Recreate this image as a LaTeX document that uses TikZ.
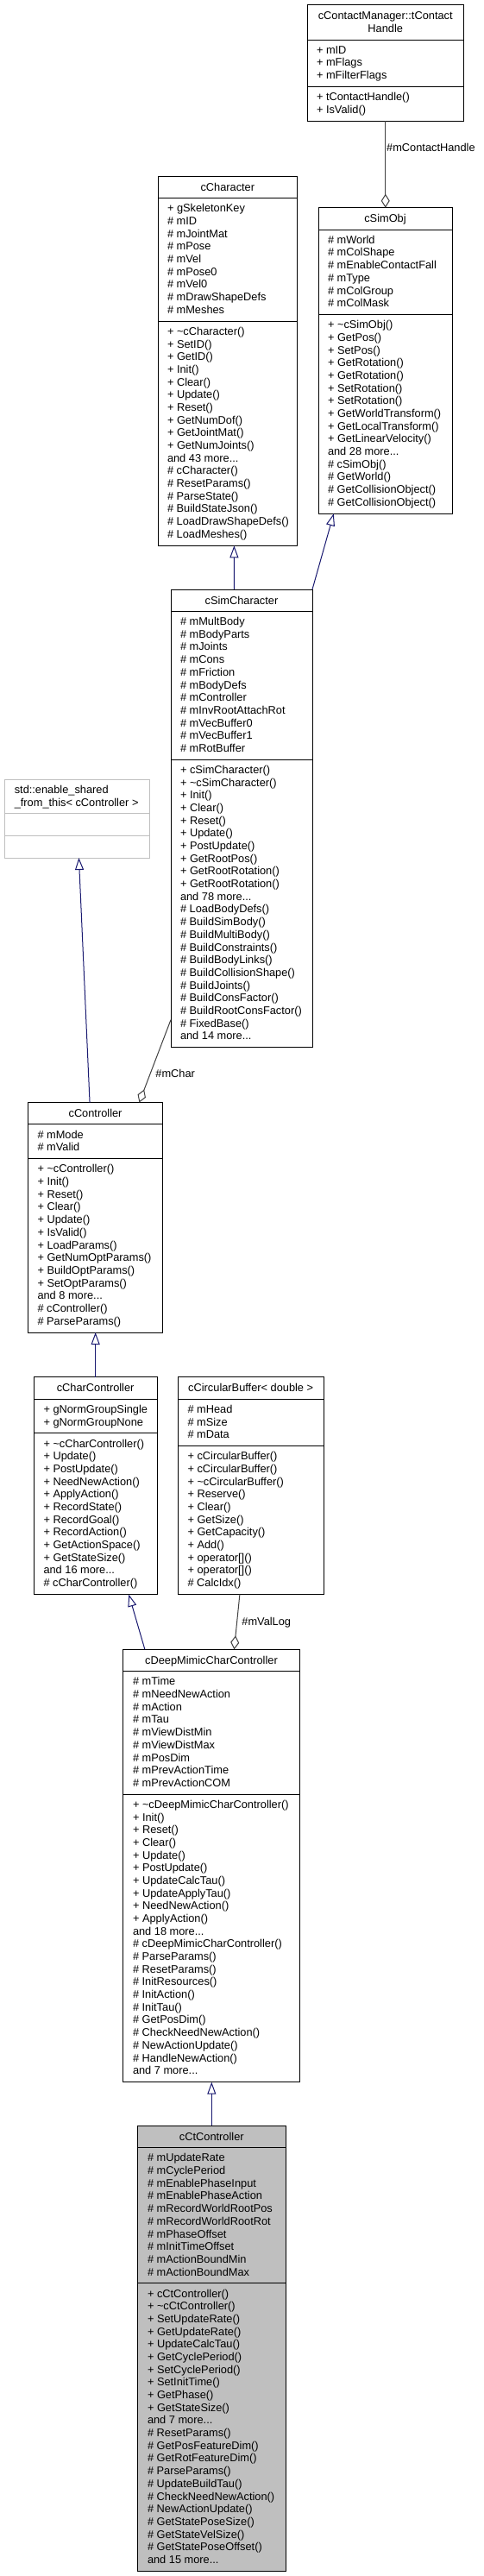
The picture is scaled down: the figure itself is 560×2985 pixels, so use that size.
\documentclass[tikz,border=0pt]{standalone}
\usepackage{fontspec}
\setmainfont{Liberation Sans}
\usetikzlibrary{arrows.meta}
\definecolor{inhcol}{HTML}{191970}
\definecolor{aggcol}{HTML}{404040}
\definecolor{greyss}{HTML}{BFBFBF}
\newcommand\dfont{\fontsize{12.8}{14.68}\selectfont}
\newcommand\tdots{.\kern0pt.\kern0pt.}
\newcommand\memlist[4]{\foreach \mtext [count=\mi from 0] in {#4}{\node[mem] (#1-\mi) at (#2,{#3+14.68*\mi}) {\mtext};}}
\tikzset{
 cls/.style={draw=black, line width=1pt, fill=white, inner sep=0pt, outer sep=0pt, rectangle},
 mem/.style={anchor=west, inner sep=0pt, outer sep=0pt, text height=9.2pt, text depth=0pt, font=\dfont},
 ttl/.style={anchor=center, inner sep=0pt, outer sep=0pt, text height=9.2pt, text depth=0pt, font=\dfont},
 sepline/.style={line width=1pt},
 inh/.style={draw=inhcol, line width=1pt, -{Triangle[open,length=14pt,width=10pt]}},
 agg/.style={draw=aggcol, line width=1pt, -{Diamond[open,length=16pt,width=10pt]}},
 elabel/.style={anchor=west, inner sep=0pt, outer sep=0pt, text height=9.2pt, text depth=0pt, font=\dfont},
}
\begin{document}
\begin{tikzpicture}[x=1pt,y=-1pt]
\useasboundingbox (0,0) rectangle (560,2985);
\fill[white] (0,0) rectangle (560,2985);

% cContactManager::tContactHandle
\node[cls, minimum width=181.5pt, minimum height=134.7pt] (ctc) at (446.75,73.05) {};
\draw[sepline] (356,46) -- (537.5,46);
\draw[sepline] (356,100.5) -- (537.5,100.5);
\node[ttl] (ctc-t1) at (446.75,17.7) {cContactManager::tContact};
\node[ttl] (ctc-t2) at (446.75,32.4) {Handle};
\memlist{ctc-a}{367}{57.7}{{+ mID},{+ mFlags},{+ mFilterFlags}}
\memlist{ctc-m}{367}{112.1}{{+ tContactHandle()},{+ IsValid()}}

% cCharacter
\node[cls, minimum width=161.6pt, minimum height=428pt] (chr) at (263.8,418.3) {};
\draw[sepline] (183,229.6) -- (344.6,229.6);
\draw[sepline] (183,372.2) -- (344.6,372.2);
\node[ttl] (chr-t) at (263.8,216.8) {cCharacter};
\memlist{chr-a}{194}{241.3}{{+ gSkeletonKey},{\# mID},{\# mJointMat},{\# mPose},{\# mVel},{\# mPose0},{\# mVel0},{\# mDrawShapeDefs},{\# mMeshes}}
\memlist{chr-m}{194}{383.8}{{+ \textasciitilde cCharacter()},{+ SetID()},{+ GetID()},{+ Init()},{+ Clear()},{+ Update()},{+ Reset()},{+ GetNumDof()},{+ GetJointMat()},{+ GetNumJoints()},{and 43 more\tdots},{\# cCharacter()},{\# ResetParams()},{\# ParseState()},{\# BuildStateJson()},{\# LoadDrawShapeDefs()},{\# LoadMeshes()}}

% cSimObj
\node[cls, minimum width=155pt, minimum height=354.6pt] (sob) at (446.5,418) {};
\draw[sepline] (369,266) -- (524,266);
\draw[sepline] (369,364.6) -- (524,364.6);
\node[ttl] (sob-t) at (446.5,253.2) {cSimObj};
\memlist{sob-a}{380}{277.7}{{\# mWorld},{\# mColShape},{\# mEnableContactFall},{\# mType},{\# mColGroup},{\# mColMask}}
\memlist{sob-m}{380}{376.2}{{+ \textasciitilde cSimObj()},{+ GetPos()},{+ SetPos()},{+ GetRotation()},{+ GetRotation()},{+ SetRotation()},{+ SetRotation()},{+ GetWorldTransform()},{+ GetLocalTransform()},{+ GetLinearVelocity()},{and 28 more\tdots},{\# cSimObj()},{\# GetWorld()},{\# GetCollisionObject()},{\# GetCollisionObject()}}

% cSimCharacter
\node[cls, minimum width=164pt, minimum height=530.8pt] (sch) at (280,948.4) {};
\draw[sepline] (198,708.3) -- (362,708.3);
\draw[sepline] (198,880.3) -- (362,880.3);
\node[ttl] (sch-t) at (280,695.5) {cSimCharacter};
\memlist{sch-a}{209}{720}{{\# mMultBody},{\# mBodyParts},{\# mJoints},{\# mCons},{\# mFriction},{\# mBodyDefs},{\# mController},{\# mInvRootAttachRot},{\# mVecBuffer0},{\# mVecBuffer1},{\# mRotBuffer}}
\memlist{sch-m}{209}{891.9}{{+ cSimCharacter()},{+ \textasciitilde cSimCharacter()},{+ Init()},{+ Clear()},{+ Reset()},{+ Update()},{+ PostUpdate()},{+ GetRootPos()},{+ GetRootRotation()},{+ GetRootRotation()},{and 78 more\tdots},{\# LoadBodyDefs()},{\# BuildSimBody()},{\# BuildMultiBody()},{\# BuildConstraints()},{\# BuildBodyLinks()},{\# BuildCollisionShape()},{\# BuildJoints()},{\# BuildConsFactor()},{\# BuildRootConsFactor()},{\# FixedBase()},{and 14 more\tdots}}

% std::enable_shared_from_this< cController >
\node[cls, draw=greyss, minimum width=168.6pt, minimum height=90.7pt] (std) at (89.3,948.65) {};
\draw[sepline, draw=greyss] (5,942.7) -- (173.6,942.7);
\draw[sepline, draw=greyss] (5,968.3) -- (173.6,968.3);
\node[mem] (std-t1) at (16.8,915.3) {std::enable\_shared};
\node[mem] (std-t2) at (16.8,930) {\_from\_this< cController >};

% cController
\node[cls, minimum width=156.1pt, minimum height=266.5pt] (ctl) at (110.55,1410.75) {};
\draw[sepline] (32.5,1302.8) -- (188.6,1302.8);
\draw[sepline] (32.5,1342.7) -- (188.6,1342.7);
\node[ttl] (ctl-t) at (110.55,1290) {cController};
\memlist{ctl-a}{43.5}{1314.5}{{\# mMode},{\# mValid}}
\memlist{ctl-m}{43.5}{1354.3}{{+ \textasciitilde cController()},{+ Init()},{+ Reset()},{+ Clear()},{+ Update()},{+ IsValid()},{+ LoadParams()},{+ GetNumOptParams()},{+ BuildOptParams()},{+ SetOptParams()},{and 8 more\tdots},{\# cController()},{\# ParseParams()}}

% cCharController
\node[cls, minimum width=142.7pt, minimum height=251.9pt] (cch) at (110.65,1721.65) {};
\draw[sepline] (39.3,1621) -- (182,1621);
\draw[sepline] (39.3,1660.9) -- (182,1660.9);
\node[ttl] (cch-t) at (110.65,1608.2) {cCharController};
\memlist{cch-a}{50.5}{1632.7}{{+ gNormGroupSingle},{+ gNormGroupNone}}
\memlist{cch-m}{50.5}{1672.5}{{+ \textasciitilde cCharController()},{+ Update()},{+ PostUpdate()},{+ NeedNewAction()},{+ ApplyAction()},{+ RecordState()},{+ RecordGoal()},{+ RecordAction()},{+ GetActionSpace()},{+ GetStateSize()},{and 16 more\tdots},{\# cCharController()}}

% cCircularBuffer< double >
\node[cls, minimum width=168.6pt, minimum height=251.8pt] (cbf) at (290.7,1721.6) {};
\draw[sepline] (206.4,1621) -- (375,1621);
\draw[sepline] (206.4,1675.5) -- (375,1675.5);
\node[ttl] (cbf-t) at (290.7,1608.2) {cCircularBuffer< double >};
\memlist{cbf-a}{217.5}{1632.7}{{\# mHead},{\# mSize},{\# mData}}
\memlist{cbf-m}{217.5}{1687.1}{{+ cCircularBuffer()},{+ cCircularBuffer()},{+ \textasciitilde cCircularBuffer()},{+ Reserve()},{+ Clear()},{+ GetSize()},{+ GetCapacity()},{+ Add()},{+ operator[]()},{+ operator[]()},{\# CalcIdx()}}

% cDeepMimicCharController
\node[cls, minimum width=204.2pt, minimum height=501.4pt] (dmc) at (245,2162) {};
\draw[sepline] (142.9,1936.6) -- (347.1,1936.6);
\draw[sepline] (142.9,2079.2) -- (347.1,2079.2);
\node[ttl] (dmc-t) at (245,1923.8) {cDeepMimicCharController};
\memlist{dmc-a}{154}{1948.3}{{\# mTime},{\# mNeedNewAction},{\# mAction},{\# mTau},{\# mViewDistMin},{\# mViewDistMax},{\# mPosDim},{\# mPrevActionTime},{\# mPrevActionCOM}}
\memlist{dmc-m}{154}{2090.8}{{+ \textasciitilde cDeepMimicCharController()},{+ Init()},{+ Reset()},{+ Clear()},{+ Update()},{+ PostUpdate()},{+ UpdateCalcTau()},{+ UpdateApplyTau()},{+ NeedNewAction()},{+ ApplyAction()},{and 18 more\tdots},{\# cDeepMimicCharController()},{\# ParseParams()},{\# ResetParams()},{\# InitResources()},{\# InitAction()},{\# InitTau()},{\# GetPosDim()},{\# CheckNeedNewAction()},{\# NewActionUpdate()},{\# HandleNewAction()},{and 7 more\tdots}}

% cCtController
\node[cls, fill=greyss, minimum width=171.4pt, minimum height=516.1pt] (cct) at (245.3,2721.35) {};
\draw[sepline] (159.6,2488.6) -- (331,2488.6);
\draw[sepline] (159.6,2645.9) -- (331,2645.9);
\node[ttl] (cct-t) at (245.3,2475.8) {cCtController};
\memlist{cct-a}{171}{2500.3}{{\# mUpdateRate},{\# mCyclePeriod},{\# mEnablePhaseInput},{\# mEnablePhaseAction},{\# mRecordWorldRootPos},{\# mRecordWorldRootRot},{\# mPhaseOffset},{\# mInitTimeOffset},{\# mActionBoundMin},{\# mActionBoundMax}}
\memlist{cct-m}{171}{2657.5}{{+ cCtController()},{+ \textasciitilde cCtController()},{+ SetUpdateRate()},{+ GetUpdateRate()},{+ UpdateCalcTau()},{+ GetCyclePeriod()},{+ SetCyclePeriod()},{+ SetInitTime()},{+ GetPhase()},{+ GetStateSize()},{and 7 more\tdots},{\# ResetParams()},{\# GetPosFeatureDim()},{\# GetRotFeatureDim()},{\# ParseParams()},{\# UpdateBuildTau()},{\# CheckNeedNewAction()},{\# NewActionUpdate()},{\# GetStatePoseSize()},{\# GetStateVelSize()},{\# GetStatePoseOffset()},{and 15 more\tdots}}

% connectors
\draw[agg] (ctc.south) -- (ctc.south |- sob.north);
\node[elabel] (lbl-ch) at (448.2,171) {\#mContactHandle};
\draw[inh] ([xshift=-8.6pt]sch.north) -- ([xshift=7.6pt]chr.south);
\draw[inh] (sch.north east) -- ([xshift=17.8pt]sob.south west);
\draw[inh] ([xshift=-6.5pt]ctl.north) -- ([xshift=2.1pt]std.south);
\draw[agg] ([yshift=32.1pt]sch.south west) -- ([xshift=-27.2pt]ctl.north east);
\node[elabel] (lbl-mc) at (180.4,1244.3) {\#mChar};
\draw[inh] (cch.north) -- (cch.north |- ctl.south);
\draw[inh] ([xshift=25pt]dmc.north west) -- ([xshift=-32.7pt]cch.south east);
\draw[agg] ([xshift=-12.8pt]cbf.south) -- ([xshift=26.4pt]dmc.north);
\node[elabel] (lbl-vl) at (280.4,1879) {\#mValLog};
\draw[inh] (cct.north) -- (cct.north |- dmc.south);
\end{tikzpicture}
\end{document}
